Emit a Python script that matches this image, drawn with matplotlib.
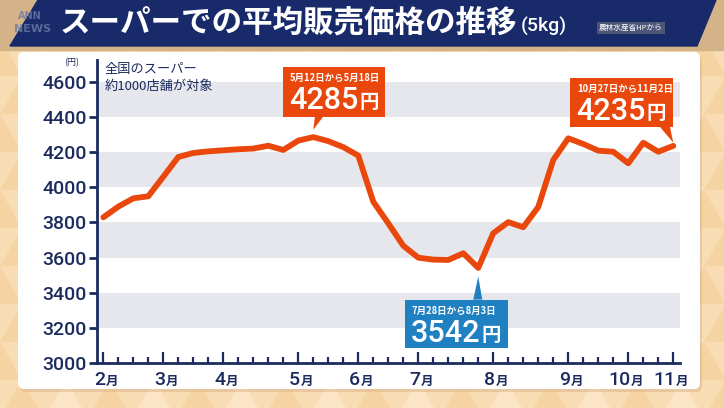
import matplotlib.pyplot as plt
from matplotlib.patches import Polygon, FancyBboxPatch, Rectangle
import numpy as np

# weekly average rice price at supermarkets (yen / 5kg), weeks from Feb 3 to Oct 27
prices = [3829, 3890, 3937, 3949, 4060, 4172, 4195, 4204, 4210, 4216,
          4220, 4236, 4212, 4265, 4285, 4262, 4228, 4180, 3918, 3795,
          3668, 3600, 3589, 3587, 3625, 3542, 3739, 3802, 3773, 3888,
          4155, 4278, 4246, 4208, 4202, 4136, 4253, 4202, 4235]
month_pos = [0, 4, 8, 13, 17, 21, 26, 31, 35, 38]
month_num = ['2', '3', '4', '5', '6', '7', '8', '9', '10', '11']
yticks = [3000, 3200, 3400, 3600, 3800, 4000, 4200, 4400, 4600]
bands = [(3200, 3400), (3600, 3800), (4000, 4200), (4400, 4600)]

# callouts: week index and period text
peak_i, low_i, last_i = 14, 25, 38
peak_txt = '5月12日から5月18日'
low_txt = '7月28日から8月3日'
last_txt = '10月27日から11月2日'

NAVY = '#1b2b5e'
ORANGE = '#ea470d'
BLUE = '#1f80c2'
JP = ['Noto Sans CJK JP', 'DejaVu Sans']
NUM = ['Roboto', 'Noto Sans CJK JP', 'DejaVu Sans']

W, H = 724, 408
fig = plt.figure(figsize=(W / 100, H / 100), dpi=100)

# background layer in pixel coords
bg = fig.add_axes([0, 0, 1, 1], zorder=0)
bg.set_xlim(0, W)
bg.set_ylim(H, 0)
bg.axis('off')
bg.add_patch(Rectangle((0, 0), W, H, color='#f8dcb3'))
tw, th = 44, 38
for r in range(12):
    for c in range(-1, 19):
        x0 = c * tw + (tw / 2 if r % 2 else 0)
        y0 = r * th
        col = '#fbe5c6' if (r + c) % 2 else '#f6d3a3'
        bg.add_patch(Polygon([(x0, y0 + th), (x0 + tw / 2, y0), (x0 + tw, y0 + th)],
                             closed=True, color=col, lw=0))
# wood strip and title banner
bg.add_patch(Rectangle((0, 0), W, 50, color='#d3b387'))
bg.add_patch(Polygon([(38, 0), (716, 0), (697, 46), (10, 46)], closed=True, color='#182a69'))
bg.text(18, 16, 'ANN', color='#6d7aa6', fontsize=7, fontweight='bold', va='center', alpha=0.8)
bg.text(14, 29, 'NEWS', color='#6d7aa6', fontsize=8, fontweight='bold', va='center', alpha=0.8)
bg.text(60, 23, 'スーパーでの平均販売価格の推移', color='white', fontsize=22,
        fontweight='bold', family=JP, va='center')
bg.text(521, 26, '(5kg)', color='white', fontsize=14, fontweight='medium', family=NUM,
        va='center')
bg.text(599, 28, '農林水産省HPから', color='white', fontsize=5.5, family=JP, va='center',
        bbox=dict(boxstyle='square,pad=0.25', fc='#4d5677', ec='none'))

# white panel with soft shadow
bg.add_patch(FancyBboxPatch((20, 55), 682, 337, boxstyle='round,pad=0,rounding_size=6',
                            fc='#d9b48a', ec='none', alpha=0.5))
bg.add_patch(FancyBboxPatch((18, 52), 682, 337, boxstyle='round,pad=0,rounding_size=6',
                            fc='white', ec='none'))

# main chart
left, right, bottom, top = 96.7, 680, 363.3, 60
ax = fig.add_axes([left / W, 1 - bottom / H, (right - left) / W, (bottom - top) / H], zorder=2)
ax.patch.set_alpha(0)
weeks = np.arange(len(prices))
for lo, hi in bands:
    ax.axhspan(lo, hi, color='#e5e7ec', lw=0, zorder=0)
ax.plot(weeks, prices, color=ORANGE, lw=4.2, solid_joinstyle='round',
        solid_capstyle='round', zorder=3)
ax.set_xlim(-0.44, 38.45)
ax.set_ylim(3000, 4723)
for s in ['top', 'right']:
    ax.spines[s].set_visible(False)
for s in ['left', 'bottom']:
    ax.spines[s].set_color(NAVY)
    ax.spines[s].set_linewidth(2)
ax.set_yticks(yticks)
ax.set_yticklabels([str(v) for v in yticks], family=NUM, fontsize=14,
                   fontweight='medium', color=NAVY)
ax.tick_params(axis='y', direction='out', length=6, width=2, color=NAVY, pad=1)
ax.set_xticks(month_pos)
ax.set_xticks(weeks, minor=True)
ax.set_xticklabels([])
ax.tick_params(axis='x', which='major', direction='in', length=8, width=1.6, color=NAVY)
ax.tick_params(axis='x', which='minor', direction='in', length=4, width=1.6, color=NAVY)

# overlay for labels and callouts, pixel coords
ov = fig.add_axes([0, 0, 1, 1], zorder=5)
ov.set_xlim(0, W)
ov.set_ylim(H, 0)
ov.axis('off')
ov.patch.set_alpha(0)
ov.text(72, 63, '(円)', color=NAVY, fontsize=6.5, family=JP, ha='center', va='center')
ov.text(105, 69, '全国のスーパー', color=NAVY, fontsize=9.5, family=JP, va='center')
ov.text(105, 86, '約1000店舗が対象', color=NAVY, fontsize=9.5, family=JP, va='center')
fig.canvas.draw()
rend = fig.canvas.get_renderer()


def to_px(i, v):
    x, y = ax.transData.transform((i, v))
    return x, H - y


for p, n in zip(month_pos, month_num):
    px, _ = to_px(p, 3000)
    ov.text(px + 2, 385, n, family=NUM, fontsize=14, fontweight='medium', color=NAVY,
            ha='right', va='baseline')
    ov.text(px + 2, 385, '月', family=JP, fontsize=9, fontweight='bold', color=NAVY,
            ha='left', va='baseline')


def callout(i, small, color, bx, by, base, tip_dy):
    px, py = to_px(i, prices[i])
    l, r = px + bx[0], px + bx[1]
    t, b = py + by[0], py + by[1]
    ov.add_patch(Rectangle((l, t), r - l, b - t, color=color, lw=0))
    edge = t if tip_dy > 0 else b
    ov.add_patch(Polygon([(px + base[0], edge), (px + base[1], edge), (px, py + tip_dy)],
                         closed=True, color=color, lw=0))
    ov.text(l + 7, t + 11, small, family=JP, fontsize=6.8, fontweight='bold',
            color='white', va='center')
    big = ov.text(l + 6, t + 42, str(prices[i]), family=NUM, fontsize=22,
                  fontweight='medium', color='white', va='baseline')
    ext = big.get_window_extent(rend)
    xr, _ = ov.transData.inverted().transform((ext.x1, 0))
    ov.text(xr + 1, t + 41, '円', family=JP, fontsize=14, fontweight='bold',
            color='white', va='baseline')


callout(peak_i, peak_txt, ORANGE, (-30.6, 71.7), (-70, -20.6), (1.7, 10), -7.3)
callout(last_i, last_txt, ORANGE, (-103.3, -0.6), (-68.3, -19), (-13.3, -3.3), -3.3)
callout(low_i, low_txt, BLUE, (-73.3, 29.7), (31.7, 79.7), (-5, 4), 8.7)

fig.savefig('out.png', dpi=100)
